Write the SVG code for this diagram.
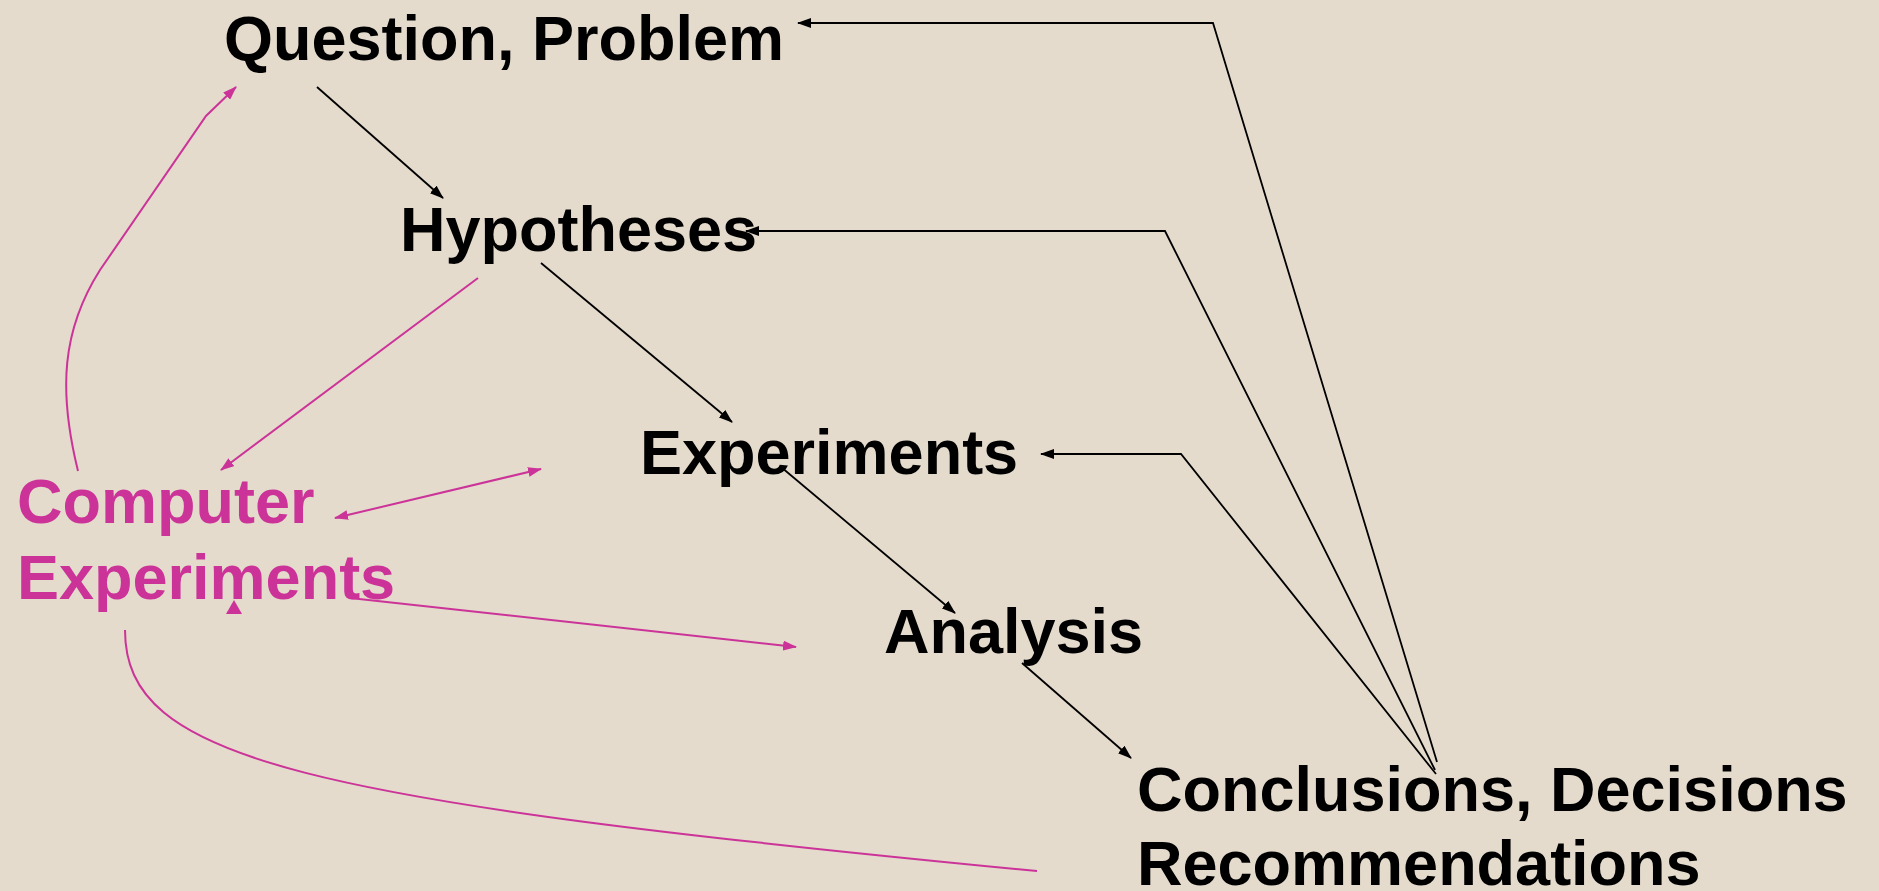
<svg xmlns="http://www.w3.org/2000/svg" width="1879" height="891" viewBox="0 0 1879 891">
<defs>
<style>
.t{font-family:"Liberation Sans",Arial,sans-serif;font-weight:bold;font-size:63px}
.k{fill:#000}
.m{fill:#CC3399}
.lk{fill:none;stroke:#000;stroke-width:1.8}
.lm{fill:none;stroke:#CC3399;stroke-width:2}
</style>
<marker id="ak" viewBox="0 0 14 10" refX="13" refY="5" markerWidth="14" markerHeight="10" markerUnits="userSpaceOnUse" orient="auto-start-reverse"><path d="M0,0 L14,5 L0,10 Z" fill="#000"/></marker>
<marker id="am" viewBox="0 0 14 10" refX="13" refY="5" markerWidth="14" markerHeight="10" markerUnits="userSpaceOnUse" orient="auto-start-reverse"><path d="M0,0 L14,5 L0,10 Z" fill="#CC3399"/></marker>
</defs>
<rect width="1879" height="891" fill="#E4DBCC"/>
<g id="connectors">
<line class="lk" x1="317" y1="87" x2="443" y2="198" marker-end="url(#ak)"/>
<line class="lk" x1="541" y1="263" x2="732" y2="422" marker-end="url(#ak)"/>
<line class="lk" x1="781" y1="467" x2="955" y2="613" marker-end="url(#ak)"/>
<line class="lk" x1="1022" y1="663" x2="1131" y2="758" marker-end="url(#ak)"/>
<polyline class="lk" points="1437,762 1213,23 798,23" marker-end="url(#ak)"/>
<polyline class="lk" points="1435,770 1165,231 746,231" marker-end="url(#ak)"/>
<polyline class="lk" points="1436,774 1181,454 1041,454" marker-end="url(#ak)"/>
<line class="lm" x1="478" y1="278" x2="221" y2="470" marker-end="url(#am)"/>
<line class="lm" x1="335" y1="518" x2="541" y2="469" marker-start="url(#am)" marker-end="url(#am)"/>
<line class="lm" x1="350" y1="598" x2="796" y2="647" marker-end="url(#am)"/>
<path class="lm" d="M78,471 C58,390 62,330 100,270 L206,116 L236,87" marker-end="url(#am)"/>
<path class="lm" d="M125,630 C125,760 300,800 1037,871"/>
<path d="M234,600 L226,614 L242,614 Z" fill="#CC3399"/>
</g>
<g id="question"><text class="t k" x="224" y="60">Question, Problem</text></g>
<g id="hypotheses"><text class="t k" x="400" y="251">Hypotheses</text></g>
<g id="experiments"><text class="t k" x="640" y="474">Experiments</text></g>
<g id="analysis"><text class="t k" x="884" y="653">Analysis</text></g>
<g id="conclusions"><text class="t k" x="1137" y="811">Conclusions, Decisions</text><text class="t k" x="1137" y="885">Recommendations</text></g>
<g id="computer"><text class="t m" x="17" y="523">Computer</text><text class="t m" x="17" y="599">Experiments</text></g>
</svg>
